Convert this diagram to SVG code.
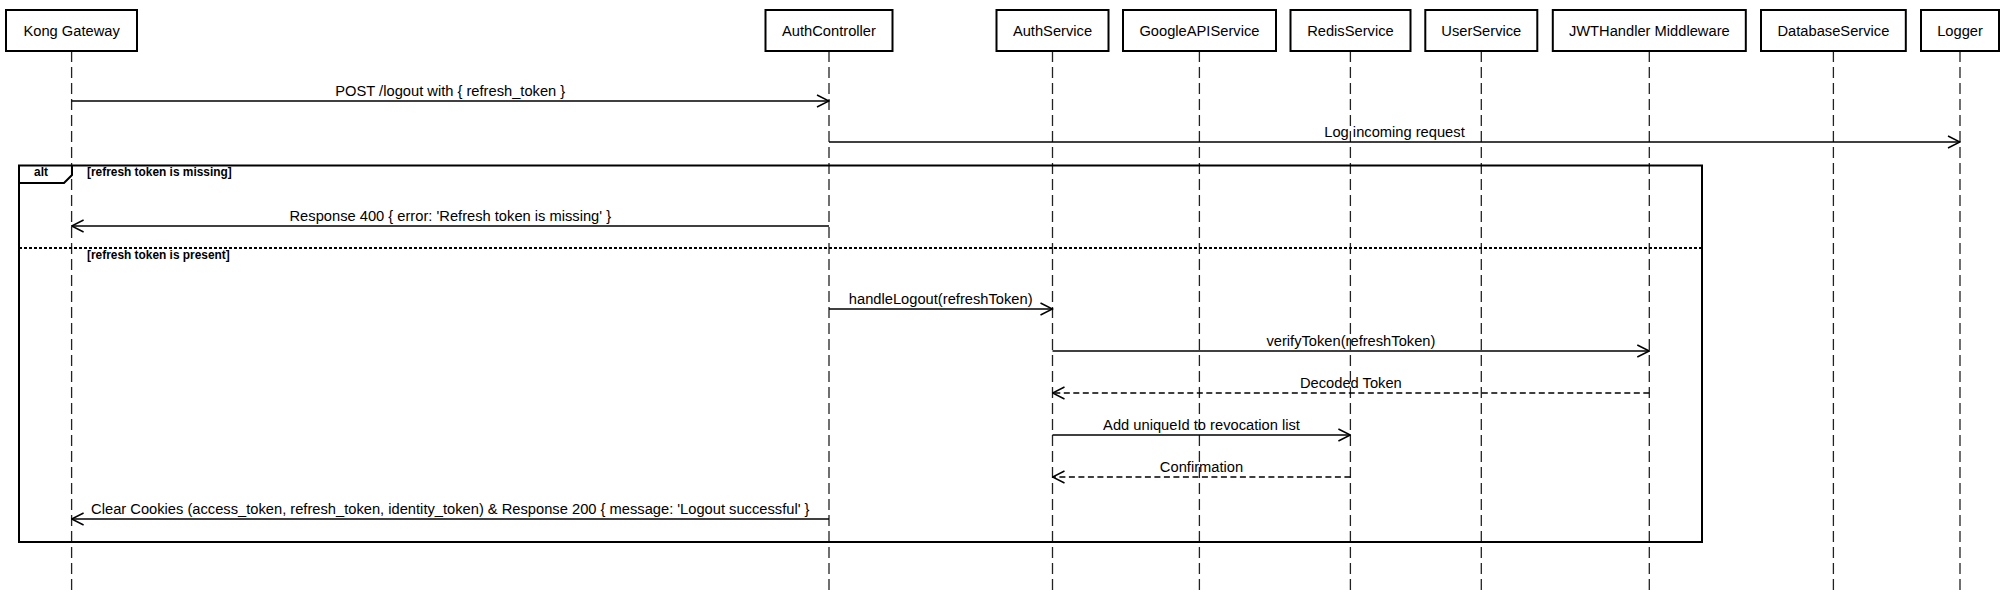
<svg xmlns="http://www.w3.org/2000/svg" width="2006" height="595" viewBox="0 0 2006 595">
<defs>
<style>
.box{fill:#fff;stroke:#000;stroke-width:2}
.lbl{font-family:"Liberation Sans",Arial,sans-serif;font-size:14.7px;fill:#000;text-anchor:middle}
.life{stroke:#222;stroke-width:1.3;stroke-dasharray:11,5;fill:none}
.msg{stroke:#000;stroke-width:1.4;fill:none}
.dash{stroke-dasharray:6,3.5}
.frame{fill:none;stroke:#000;stroke-width:2}
.cond{font-family:"Liberation Sans",Arial,sans-serif;font-size:11.9px;font-weight:bold;fill:#000}
</style>
<marker id="arr" markerUnits="userSpaceOnUse" markerWidth="14" markerHeight="14" refX="12" refY="6" orient="auto" viewBox="-1 -1 14 14">
<path d="M0,0 L12,6 L0,12" fill="none" stroke="#000" stroke-width="1.5"/>
</marker>
</defs>
<rect width="2006" height="595" fill="#fff"/>
<g id="lifelines">
<line class="life" x1="71.6" y1="51" x2="71.6" y2="595"/>
<line class="life" x1="829" y1="51" x2="829" y2="595"/>
<line class="life" x1="1052.5" y1="51" x2="1052.5" y2="595"/>
<line class="life" x1="1199.4" y1="51" x2="1199.4" y2="595"/>
<line class="life" x1="1350.4" y1="51" x2="1350.4" y2="595"/>
<line class="life" x1="1481.3" y1="51" x2="1481.3" y2="595"/>
<line class="life" x1="1649.3" y1="51" x2="1649.3" y2="595"/>
<line class="life" x1="1833.4" y1="51" x2="1833.4" y2="595"/>
<line class="life" x1="1960" y1="51" x2="1960" y2="595"/>
</g>
<g id="kong"><rect class="box" x="6" y="10" width="131" height="41"/><text class="lbl" x="71.6" y="36">Kong Gateway</text></g>
<g id="authcontroller"><rect class="box" x="765.5" y="10" width="127" height="41"/><text class="lbl" x="829" y="36">AuthController</text></g>
<g id="authservice"><rect class="box" x="996.5" y="10" width="112" height="41"/><text class="lbl" x="1052.5" y="36">AuthService</text></g>
<g id="googleapiservice"><rect class="box" x="1123" y="10" width="153" height="41"/><text class="lbl" x="1199.4" y="36">GoogleAPIService</text></g>
<g id="redisservice"><rect class="box" x="1290.5" y="10" width="120" height="41"/><text class="lbl" x="1350.4" y="36">RedisService</text></g>
<g id="userservice"><rect class="box" x="1425.3" y="10" width="112" height="41"/><text class="lbl" x="1481.3" y="36">UserService</text></g>
<g id="jwthandler"><rect class="box" x="1552.8" y="10" width="193" height="41"/><text class="lbl" x="1649.3" y="36">JWTHandler Middleware</text></g>
<g id="databaseservice"><rect class="box" x="1761" y="10" width="144.8" height="41"/><text class="lbl" x="1833.4" y="36">DatabaseService</text></g>
<g id="logger"><rect class="box" x="1921" y="10" width="78" height="41"/><text class="lbl" x="1960" y="36">Logger</text></g>
<g id="alt-frame">
<rect class="frame" x="19" y="165.5" width="1683" height="376.5"/>
<path class="frame" d="M19,183 L64,183 L72,175 L72,165.5"/>
<text class="cond" x="41" y="176" text-anchor="middle">alt</text>
<text class="cond" x="87" y="176">[refresh token is missing]</text>
<line x1="19" y1="248" x2="1702" y2="248" stroke="#000" stroke-width="2" stroke-dasharray="3,2"/>
<text class="cond" x="87" y="259">[refresh token is present]</text>
</g>
<g id="connectors">
<line class="msg" x1="71.6" y1="101" x2="829" y2="101" marker-end="url(#arr)"/>
<text class="lbl" x="450.3" y="95.5">POST /logout with { refresh_token }</text>
<line class="msg" x1="829" y1="142" x2="1960" y2="142" marker-end="url(#arr)"/>
<text class="lbl" x="1394.5" y="136.5">Log incoming request</text>
<line class="msg" x1="829" y1="226" x2="71.6" y2="226" marker-end="url(#arr)"/>
<text class="lbl" x="450.3" y="220.5">Response 400 { error: 'Refresh token is missing' }</text>
<line class="msg" x1="829" y1="309" x2="1052.5" y2="309" marker-end="url(#arr)"/>
<text class="lbl" x="940.7" y="303.5">handleLogout(refreshToken)</text>
<line class="msg" x1="1052.5" y1="351" x2="1649.3" y2="351" marker-end="url(#arr)"/>
<text class="lbl" x="1350.9" y="345.5">verifyToken(refreshToken)</text>
<line class="msg dash" x1="1649.3" y1="393" x2="1052.5" y2="393" marker-end="url(#arr)"/>
<text class="lbl" x="1350.9" y="387.5">Decoded Token</text>
<line class="msg" x1="1052.5" y1="435" x2="1350.4" y2="435" marker-end="url(#arr)"/>
<text class="lbl" x="1201.5" y="429.5">Add uniqueId to revocation list</text>
<line class="msg dash" x1="1350.4" y1="477" x2="1052.5" y2="477" marker-end="url(#arr)"/>
<text class="lbl" x="1201.5" y="471.5">Confirmation</text>
<line class="msg" x1="829" y1="519" x2="71.6" y2="519" marker-end="url(#arr)"/>
<text class="lbl" x="450.3" y="513.5">Clear Cookies (access_token, refresh_token, identity_token) &amp; Response 200 { message: 'Logout successful' }</text>
</g>
</svg>
